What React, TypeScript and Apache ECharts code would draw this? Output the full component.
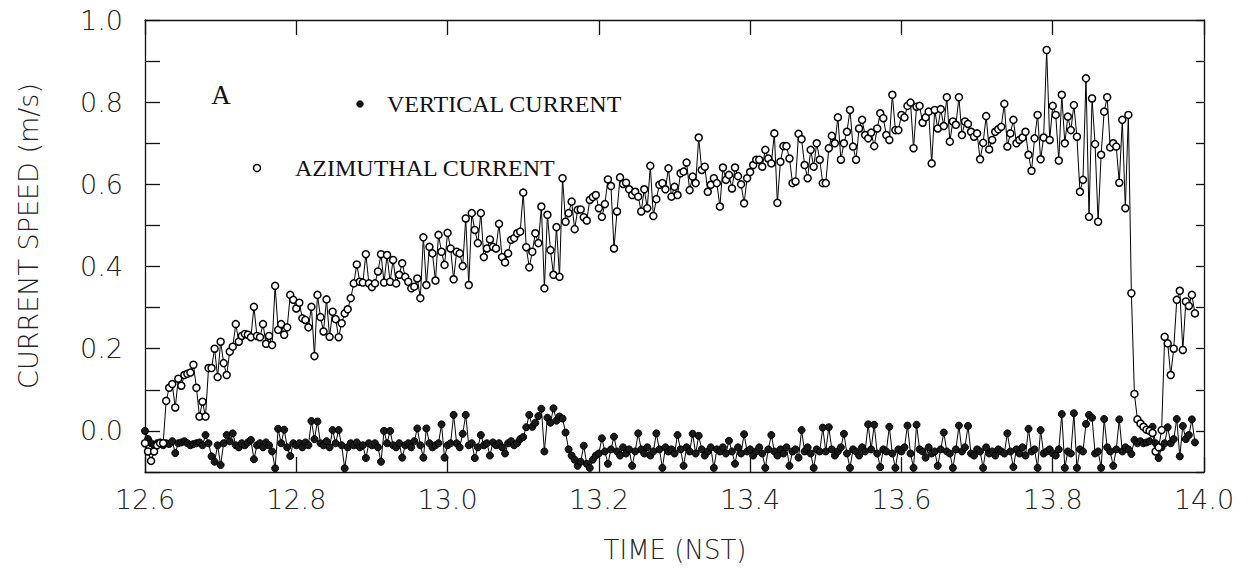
import React, { useEffect, useRef } from "react";
import * as echarts from "echarts";

// Sampling of the record (hours NST)
const T_START = 12.6;
const T_STEP = 0.004;

// Azimuthal current (m/s), open circles
const azimuthal: number[] = [
  // 12.600 - 12.696
  -0.03, -0.05, -0.073, -0.05, -0.035, -0.03, -0.03, 0.073, 0.105, 0.114, 0.057, 0.127, 0.11, 0.136, 0.139, 0.142, 0.161, 0.105, 0.035, 0.071, 0.035, 0.153, 0.153, 0.2, 0.131,
  // 12.700 - 12.796
  0.217, 0.165, 0.136, 0.193, 0.205, 0.26, 0.217, 0.231, 0.236, 0.234, 0.228, 0.302, 0.231, 0.228, 0.26, 0.212, 0.231, 0.209, 0.353, 0.246, 0.26, 0.234, 0.252, 0.331, 0.319,
  // 12.800 - 12.896
  0.298, 0.312, 0.274, 0.27, 0.252, 0.302, 0.182, 0.331, 0.277, 0.242, 0.32, 0.229, 0.29, 0.272, 0.228, 0.262, 0.286, 0.296, 0.323, 0.359, 0.405, 0.363, 0.361, 0.43, 0.359,
  // 12.900 - 12.996
  0.35, 0.359, 0.388, 0.43, 0.361, 0.428, 0.363, 0.416, 0.359, 0.38, 0.408, 0.375, 0.363, 0.347, 0.351, 0.371, 0.323, 0.471, 0.355, 0.448, 0.432, 0.366, 0.477, 0.436, 0.404,
  // 13.000 - 13.096
  0.482, 0.444, 0.369, 0.436, 0.432, 0.401, 0.517, 0.355, 0.53, 0.489, 0.457, 0.53, 0.423, 0.444, 0.466, 0.448, 0.444, 0.504, 0.423, 0.41, 0.432, 0.465, 0.469, 0.481, 0.485,
  // 13.100 - 13.196
  0.58, 0.447, 0.398, 0.436, 0.481, 0.457, 0.546, 0.347, 0.526, 0.44, 0.38, 0.496, 0.375, 0.615, 0.509, 0.53, 0.558, 0.491, 0.538, 0.539, 0.52, 0.512, 0.562, 0.569, 0.574,
  // 13.200 - 13.296
  0.542, 0.521, 0.552, 0.612, 0.596, 0.444, 0.534, 0.617, 0.601, 0.604, 0.588, 0.574, 0.582, 0.57, 0.534, 0.588, 0.542, 0.645, 0.523, 0.564, 0.599, 0.603, 0.588, 0.639, 0.57,
  // 13.300 - 13.396
  0.594, 0.574, 0.627, 0.631, 0.653, 0.586, 0.619, 0.603, 0.714, 0.635, 0.643, 0.582, 0.599, 0.615, 0.603, 0.546, 0.641, 0.611, 0.623, 0.59, 0.641, 0.62, 0.6, 0.554, 0.615,
  // 13.400 - 13.496
  0.63, 0.647, 0.66, 0.66, 0.643, 0.684, 0.663, 0.651, 0.724, 0.555, 0.655, 0.693, 0.693, 0.663, 0.603, 0.607, 0.723, 0.71, 0.647, 0.615, 0.684, 0.643, 0.7, 0.66, 0.603,
  // 13.500 - 13.596
  0.603, 0.688, 0.718, 0.7, 0.763, 0.66, 0.7, 0.728, 0.781, 0.692, 0.66, 0.736, 0.757, 0.72, 0.712, 0.726, 0.693, 0.736, 0.773, 0.761, 0.72, 0.708, 0.818, 0.732, 0.732,
  // 13.600 - 13.696
  0.769, 0.763, 0.791, 0.799, 0.688, 0.789, 0.791, 0.75, 0.763, 0.777, 0.651, 0.781, 0.736, 0.783, 0.742, 0.812, 0.704, 0.753, 0.745, 0.812, 0.72, 0.753, 0.747, 0.728, 0.716,
  // 13.700 - 13.796
  0.724, 0.661, 0.701, 0.766, 0.685, 0.708, 0.728, 0.734, 0.74, 0.796, 0.692, 0.724, 0.757, 0.7, 0.708, 0.714, 0.728, 0.672, 0.633, 0.712, 0.769, 0.661, 0.714, 0.927, 0.708,
  // 13.800 - 13.896
  0.791, 0.769, 0.658, 0.818, 0.7, 0.765, 0.732, 0.793, 0.716, 0.582, 0.611, 0.858, 0.521, 0.809, 0.698, 0.509, 0.672, 0.777, 0.812, 0.69, 0.7, 0.692, 0.604, 0.757, 0.542,
  // 13.900 - 13.988
  0.769, 0.335, 0.09, 0.028, 0.018, 0.01, 0.003, 0.0, -0.005, -0.05, -0.04, 0.002, 0.229, 0.213, 0.136, 0.2, 0.319, 0.341, 0.197, 0.315, 0.304, 0.331, 0.286,
];

// Vertical current (m/s), filled circles
const vertical: number[] = [
  // 12.600 - 12.696
  0.0, -0.02, -0.03, -0.035, -0.03, -0.028, -0.035, -0.03, -0.032, -0.025, -0.054, -0.03, -0.028, -0.025, -0.03, -0.035, -0.032, -0.03, -0.028, -0.035, -0.01, -0.03, -0.062, -0.075, -0.035,
  // 12.700 - 12.796
  -0.083, -0.03, -0.01, -0.025, -0.006, -0.035, -0.04, -0.03, -0.035, -0.028, -0.022, -0.069, -0.035, -0.03, -0.04, -0.028, -0.035, -0.05, -0.091, 0.005, -0.03, 0.003, -0.04, -0.061, -0.03,
  // 12.800 - 12.896
  -0.035, -0.03, -0.04, -0.028, -0.035, 0.024, -0.02, 0.023, -0.03, -0.035, -0.025, -0.04, 0.002, -0.03, 0.002, -0.035, -0.091, -0.04, -0.03, -0.035, -0.028, -0.04, -0.035, -0.066, -0.03,
  // 12.900 - 12.996
  -0.035, -0.03, -0.04, -0.075, 0.0, -0.03, 0.0, -0.035, -0.04, -0.03, -0.065, -0.035, -0.03, -0.04, -0.025, 0.006, -0.035, -0.065, 0.006, -0.03, -0.04, -0.035, -0.03, 0.016, -0.065,
  // 13.000 - 13.096
  -0.035, -0.03, 0.039, -0.03, -0.04, -0.007, 0.039, -0.035, -0.03, -0.066, -0.04, -0.01, -0.035, -0.03, -0.06, -0.028, -0.035, -0.03, -0.04, -0.055, -0.03, -0.025, -0.035, -0.03, -0.02,
  // 13.100 - 13.196
  -0.015, 0.009, 0.039, 0.01, 0.02, 0.036, 0.054, -0.05, 0.032, 0.02, 0.055, 0.025, 0.035, 0.03, -0.004, -0.045, -0.06, -0.07, -0.085, -0.075, -0.036, -0.08, -0.09, -0.07, -0.06,
  // 13.200 - 13.296
  -0.055, -0.018, -0.05, -0.08, -0.045, -0.014, -0.05, -0.06, -0.04, -0.055, -0.045, -0.085, -0.05, -0.006, -0.045, -0.055, -0.04, -0.06, -0.05, -0.006, -0.045, -0.09, -0.04, -0.05, -0.045,
  // 13.300 - 13.396
  -0.055, -0.01, -0.045, -0.085, -0.04, -0.05, -0.007, -0.055, -0.012, -0.045, -0.06, -0.05, -0.04, -0.09, -0.045, -0.05, -0.04, -0.055, -0.024, -0.05, -0.08, -0.04, -0.055, -0.008, -0.05,
  // 13.400 - 13.496
  -0.045, -0.06, -0.05, -0.04, -0.055, -0.09, -0.045, -0.01, -0.05, -0.06, -0.045, -0.055, -0.04, -0.085, -0.05, -0.045, -0.065, 0.002, -0.05, -0.04, -0.055, -0.09, -0.045, -0.05, 0.008,
  // 13.500 - 13.596
  -0.05, 0.009, -0.045, -0.06, -0.05, -0.04, -0.007, -0.055, -0.09, -0.045, -0.05, -0.06, -0.04, -0.05, 0.016, -0.045, 0.015, -0.055, -0.088, -0.045, -0.05, 0.01, -0.055, -0.09, -0.045,
  // 13.600 - 13.696
  -0.05, -0.04, 0.013, -0.055, -0.09, 0.015, -0.045, -0.05, -0.065, -0.04, -0.055, -0.05, -0.085, -0.045, -0.004, -0.05, -0.055, -0.09, -0.045, 0.013, -0.05, -0.04, 0.012, -0.055, -0.06,
  // 13.700 - 13.796
  -0.045, -0.05, -0.09, -0.04, -0.055, -0.05, -0.06, -0.045, -0.05, -0.055, -0.006, -0.05, -0.088, -0.045, -0.055, -0.04, -0.06, 0.005, -0.05, -0.045, -0.09, 0.002, -0.055, -0.05, -0.045,
  // 13.800 - 13.896
  -0.055, -0.06, -0.045, 0.041, -0.09, -0.05, -0.055, 0.043, -0.09, -0.045, -0.05, 0.017, 0.039, 0.032, -0.055, -0.05, -0.09, 0.029, -0.04, -0.05, -0.085, -0.045, 0.028, -0.05, -0.04,
  // 13.900 - 13.988
  -0.045, -0.056, -0.022, -0.03, -0.025, -0.03, -0.028, -0.025, 0.01, -0.03, -0.066, -0.04, -0.03, 0.009, -0.03, -0.02, 0.029, -0.062, 0.012, -0.02, -0.01, 0.028, -0.028,
];

const X_MIN = 12.6;
const X_MAX = 14.0;
const X_STEP = 0.2;
const Y_MIN = -0.1;
const Y_MAX = 1.0;
const Y_STEP = 0.1;

const Y_TITLE = "CURRENT SPEED (m/s)";
const X_TITLE = "TIME (NST)";
const PANEL_LABEL = "A";
const LEGEND_VERTICAL = "VERTICAL CURRENT";
const LEGEND_AZIMUTHAL = "AZIMUTHAL CURRENT";

const SANS = "'DejaVu Sans', 'Liberation Sans', sans-serif";
const SERIF = "'Liberation Serif', 'DejaVu Serif', serif";
const INK = "#111";

export default function App() {
  const ref = useRef<HTMLDivElement>(null);

  useEffect(() => {
    if (!ref.current) return;
    const chart = echarts.init(ref.current, null, { renderer: "svg" });

    const toPairs = (arr: number[]) => arr.map((v, i) => [T_START + i * T_STEP, v]);

    const yLabel = (v: number) => {
      const k = Math.round(v * 10);
      return k >= 0 && k % 2 === 0 ? (k / 10).toFixed(1) : "";
    };

    const baseAxisLine = { show: true, onZero: false, lineStyle: { color: INK, width: 1.3 } };

    chart.setOption({
      animation: false,
      backgroundColor: "#ffffff",
      grid: { left: 145, top: 20, right: 50, bottom: 113, containLabel: false },
      xAxis: [
        {
          type: "value",
          position: "bottom",
          min: X_MIN,
          max: X_MAX,
          interval: X_STEP,
          axisLine: baseAxisLine,
          axisTick: { show: true, inside: true, length: 15, lineStyle: { color: INK, width: 1.3 } },
          axisLabel: {
            formatter: (v: number) => v.toFixed(1),
            margin: 14,
            fontSize: 27,
            fontFamily: SANS,
            fontWeight: 200,
            color: "#222",
          },
          splitLine: { show: false },
        },
        {
          type: "value",
          position: "top",
          min: X_MIN,
          max: X_MAX,
          interval: X_STEP,
          axisLine: baseAxisLine,
          axisTick: { show: true, inside: true, length: 15, lineStyle: { color: INK, width: 1.3 } },
          axisLabel: { show: false },
          splitLine: { show: false },
        },
      ],
      yAxis: [
        {
          type: "value",
          position: "left",
          min: Y_MIN,
          max: Y_MAX,
          interval: Y_STEP,
          axisLine: baseAxisLine,
          axisTick: { show: true, inside: true, length: 15, lineStyle: { color: INK, width: 1.3 } },
          axisLabel: {
            formatter: yLabel,
            margin: 22,
            fontSize: 27,
            fontFamily: SANS,
            fontWeight: 200,
            color: "#222",
          },
          splitLine: { show: false },
        },
        {
          type: "value",
          position: "right",
          min: Y_MIN,
          max: Y_MAX,
          interval: Y_STEP,
          axisLine: baseAxisLine,
          axisTick: { show: true, inside: true, length: 8, lineStyle: { color: INK, width: 1.3 } },
          axisLabel: { show: false },
          splitLine: { show: false },
        },
      ],
      series: [
        {
          name: LEGEND_VERTICAL,
          type: "line",
          xAxisIndex: 0,
          yAxisIndex: 0,
          data: toPairs(vertical),
          showAllSymbol: true,
          symbol: "circle",
          symbolSize: 7,
          lineStyle: { color: "#000", width: 1 },
          itemStyle: { color: "#1a1a1a", borderColor: "#000", borderWidth: 1 },
          z: 2,
        },
        {
          name: LEGEND_AZIMUTHAL,
          type: "line",
          xAxisIndex: 0,
          yAxisIndex: 0,
          data: toPairs(azimuthal),
          showAllSymbol: true,
          symbol: "circle",
          symbolSize: 7,
          lineStyle: { color: "#000", width: 1 },
          itemStyle: { color: "#fff", borderColor: "#000", borderWidth: 1.5 },
          z: 3,
        },
      ],
      graphic: [
        {
          type: "text",
          x: 28,
          y: 236,
          rotation: Math.PI / 2,
          style: {
            text: Y_TITLE,
            font: `200 27px ${SANS}`,
            fill: "#222",
            align: "center",
            verticalAlign: "middle",
          },
        },
        {
          type: "text",
          x: 675,
          y: 550,
          style: {
            text: X_TITLE,
            font: `200 26px ${SANS}`,
            fill: "#222",
            align: "center",
            verticalAlign: "middle",
          },
        },
        {
          type: "text",
          x: 221,
          y: 95,
          style: {
            text: PANEL_LABEL,
            font: `27px ${SERIF}`,
            fill: "#111",
            align: "center",
            verticalAlign: "middle",
          },
        },
        {
          type: "circle",
          shape: { cx: 360, cy: 104, r: 3.2 },
          style: { fill: "#111", stroke: "#000", lineWidth: 1 },
        },
        {
          type: "text",
          x: 387,
          y: 104,
          style: {
            text: LEGEND_VERTICAL,
            font: `24px ${SERIF}`,
            fill: "#111",
            align: "left",
            verticalAlign: "middle",
          },
        },
        {
          type: "circle",
          shape: { cx: 257, cy: 168, r: 3.5 },
          style: { fill: "#fff", stroke: "#000", lineWidth: 1.5 },
        },
        {
          type: "text",
          x: 295,
          y: 168,
          style: {
            text: LEGEND_AZIMUTHAL,
            font: `24px ${SERIF}`,
            fill: "#111",
            align: "left",
            verticalAlign: "middle",
          },
        },
      ],
    });

    return () => chart.dispose();
  }, []);

  return (
    <div
      ref={ref}
      style={{ position: "absolute", left: 0, top: 0, width: 1254, height: 585, background: "#fff" }}
    />
  );
}
